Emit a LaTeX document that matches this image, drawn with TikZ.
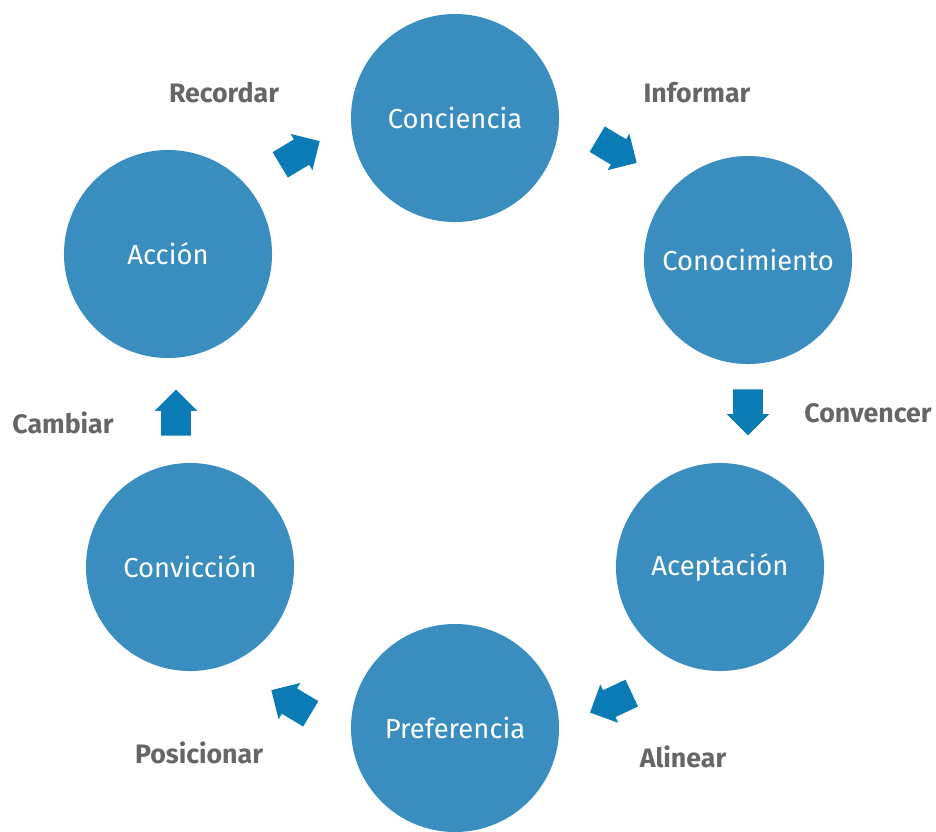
\documentclass[tikz,border=0pt]{standalone}
\usepackage{fontspec}
\setmainfont{Fira Sans}
\usetikzlibrary{shapes.arrows}
\definecolor{stagefill}{RGB}{58,141,191}
\definecolor{arrowfill}{RGB}{10,123,180}
\definecolor{labelgray}{RGB}{102,102,102}

\begin{document}
\begin{tikzpicture}[x=0.025cm, y=-0.025cm,
    stage/.style={circle, fill=stagefill, minimum size=5.2cm, inner sep=0pt, text=white, font=\fontsize{19.5}{22}\selectfont},
    flow/.style={single arrow, fill=arrowfill, inner xsep=0pt, inner ysep=0.3625cm, minimum height=1.15cm, single arrow head extend=0.16cm, single arrow head indent=0pt, anchor=tail},
    tag/.style={text=labelgray, font=\bfseries\fontsize{19}{22}\selectfont}]
    \useasboundingbox (0,0) rectangle (936,831);

    % Stages of the cycle
    \node[stage] (conciencia) at (455,118) {Conciencia};
    \node[stage] (conocimiento) at (748,260) {Conocimiento};
    \node[stage] (aceptacion) at (720,567) {Aceptación};
    \node[stage] (preferencia) at (455,728) {Preferencia};
    \node[stage] (conviccion) at (190,567) {Convicción};
    \node[stage] (accion) at (168,254) {Acción};

    % Block arrows between stages (placed by their tails)
    \node[flow, rotate=-31] (arrinformar) at (597,139) {};
    \node[flow, rotate=-90] (arrconvencer) at (748,389) {};
    \node[flow, rotate=205] (arralinear) at (632,693) {};
    \node[flow, rotate=149] (arrposicionar) at (311,714) {};
    \node[flow, rotate=90] (arrcambiar) at (176,436) {};
    \node[flow, rotate=31] (arrrecordar) at (280,165) {};

    % Labels
    \node[tag] (informar) at (697,93) {Informar};
    \node[tag] (convencer) at (868,413) {Convencer};
    \node[tag] (alinear) at (683,757) {Alinear};
    \node[tag] (posicionar) at (199,753) {Posicionar};
    \node[tag] (cambiar) at (63,423) {Cambiar};
    \node[tag] (recordar) at (224,93) {Recordar};
\end{tikzpicture}
\end{document}
